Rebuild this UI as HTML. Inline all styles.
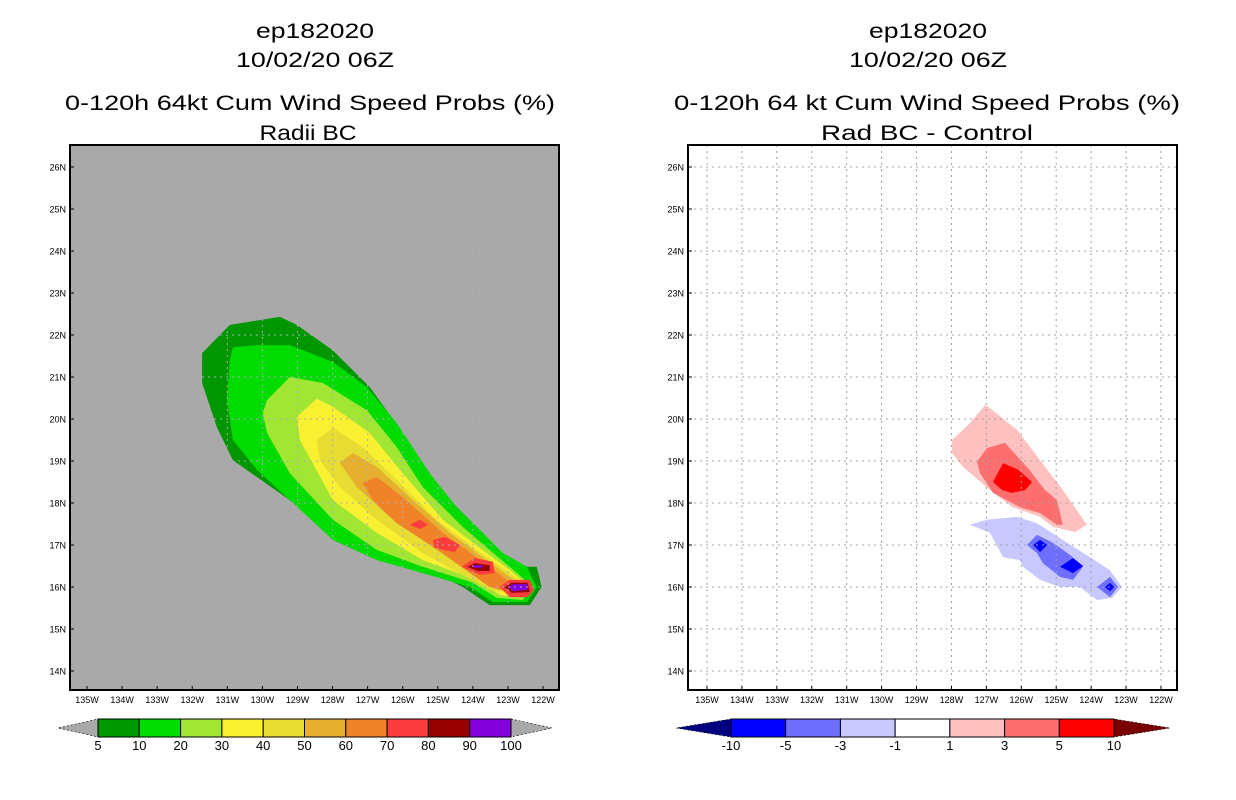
<!DOCTYPE html>
<html><head><meta charset="utf-8"><style>
body{margin:0;background:#fff;}
svg{display:block;font-family:"Liberation Sans",sans-serif;}
</style></head><body>
<svg id="s" width="1236" height="800" xmlns="http://www.w3.org/2000/svg"></svg>
<script>
// ---- data ----
const lonTicks=[135,134,133,132,131,130,129,128,127,126,125,124,123,122];
const latTicks=[26,25,24,23,22,21,20,19,18,17,16,15,14];
const leftLevels=["5","10","20","30","40","50","60","70","80","90","100"];
const leftColors=["#009600","#00dc00","#a0e632","#faf032","#e6dc32","#e6af2d","#f08228","#fa3c3c","#960000","#8200dc"];
const rightLevels=["-10","-5","-3","-1","1","3","5","10"];
const rightColors=["#0000ff","#6e6eff","#c8c8ff","#ffffff","#ffc0c0","#ff6e6e","#ff0000"];
const c5=[[131.72,21.57],[130.93,22.24],[129.5,22.43],[129.02,22.24],[128.0,21.64],[126.94,20.76],[126.0,19.67],[124.86,18.24],[123.89,17.43],[123.43,16.95],[122.95,16.48],[122.18,16.48],[122.04,16.0],[122.38,15.57],[123.52,15.57],[124.29,16.0],[125.43,16.48],[126.74,16.81],[128.08,17.29],[129.22,18.07],[130.84,19.02],[131.3,19.81],[131.72,20.86]];
const c10=[[130.84,21.71],[130.16,21.76],[129.22,21.76],[127.99,21.36],[127.02,20.76],[126.17,19.9],[125.23,18.71],[124.46,17.9],[123.72,17.29],[123.15,16.81],[122.46,16.48],[122.18,16.0],[122.46,15.64],[123.43,15.64],[124.09,16.0],[125.43,16.33],[126.74,16.64],[127.99,17.12],[129.13,18.0],[130.16,18.79],[130.84,19.5],[131.01,20.45],[130.93,21.4]];
const c20=[[129.87,20.45],[129.22,21.0],[128.28,20.86],[127.02,20.21],[126.17,19.33],[125.43,18.38],[124.29,17.43],[123.52,16.88],[122.95,16.48],[122.29,16.0],[122.58,15.69],[123.32,15.74],[124.0,16.1],[125.43,16.48],[126.74,16.88],[127.99,17.6],[129.22,18.71],[129.87,19.67],[129.99,20.14]];
const c30=[[129.02,20.05],[128.45,20.48],[127.99,20.29],[126.94,19.67],[126.0,18.71],[124.86,17.6],[123.72,16.88],[122.95,16.4],[122.38,16.0],[122.58,15.76],[123.23,15.81],[123.89,16.17],[125.43,16.64],[126.74,17.29],[127.99,18.07],[128.93,19.5]];
const c40=[[128.45,19.5],[127.99,19.79],[127.14,19.33],[126.17,18.55],[125.03,17.6],[123.89,16.88],[122.95,16.33],[122.46,16.0],[122.66,15.81],[123.52,15.93],[125.43,16.81],[126.74,17.6],[127.79,18.38],[128.36,19.02]];
const c50=[[127.79,18.95],[127.42,19.19],[126.74,18.86],[125.8,18.14],[124.66,17.29],[123.72,16.71],[122.95,16.24],[122.58,16.0],[122.75,15.86],[123.52,16.0],[125.03,16.88],[126.37,17.67],[127.31,18.38]];
const c60=[[127.14,18.48],[126.74,18.62],[126.0,18.14],[124.86,17.29],[123.89,16.71],[123.03,16.17],[122.66,15.98],[122.86,15.86],[123.52,16.0],[124.86,16.81],[126.17,17.52],[126.85,18.07]];
const c70a=[[125.8,17.48],[125.51,17.6],[125.28,17.48],[125.51,17.38]];
const c70b=[[125.14,17.12],[124.8,17.19],[124.37,17.0],[124.52,16.83],[125.09,16.93]];
const c70c=[[124.32,16.48],[123.95,16.69],[123.43,16.6],[123.38,16.33],[123.8,16.29]];
const c70d=[[123.23,16.0],[122.95,16.17],[122.38,16.17],[122.26,15.93],[122.44,15.76],[122.95,15.76]];
const c80c=[[124.15,16.48],[123.95,16.57],[123.52,16.52],[123.52,16.38],[123.86,16.38]];
const c80d=[[123.09,16.0],[122.89,16.1],[122.44,16.1],[122.38,15.88],[122.89,15.86]];
const c90c=[[124.0,16.52],[123.72,16.52],[123.72,16.46],[124.0,16.46]];
const c90d=[[123.0,16.0],[122.86,16.07],[122.46,16.07],[122.44,15.93],[122.86,15.9]];
const leftContours=[[0,c5],[1,c10],[2,c20],[3,c30],[4,c40],[5,c50],[6,c60],[7,c70a],[7,c70b],[7,c70c],[7,c70d],[8,c80c],[8,c80d],[9,c90c],[9,c90d]];
const p1=[[127.98,19.5],[127.47,19.9],[127.04,20.33],[126.9,20.26],[126.12,19.74],[125.46,19.02],[124.81,18.31],[124.12,17.48],[124.46,17.31],[125.09,17.43],[125.46,17.67],[126.24,17.9],[126.9,18.31],[127.67,18.86],[127.98,19.19]];
const p3=[[127.27,18.98],[126.98,19.31],[126.47,19.43],[125.84,18.86],[125.32,18.31],[124.98,18.07],[124.81,17.48],[124.98,17.48],[125.46,17.76],[126.04,17.9],[126.81,18.24],[127.18,18.71]];
const p5=[[126.81,18.5],[126.52,18.95],[126.09,18.79],[125.69,18.5],[125.89,18.31],[126.27,18.24],[126.55,18.31]];
const n1=[[127.47,17.48],[126.98,17.6],[126.12,17.67],[125.55,17.52],[124.81,17.12],[124.03,16.71],[123.46,16.4],[123.12,16.0],[123.4,15.74],[123.83,15.69],[124.32,16.0],[124.89,16.0],[125.46,16.17],[125.95,16.48],[126.04,16.64],[126.52,16.71],[126.9,17.29]];
const n3a=[[125.84,17.0],[125.55,17.24],[125.09,17.05],[124.6,16.76],[124.23,16.48],[124.52,16.17],[124.89,16.24],[125.38,16.57],[125.55,16.81]];
const n3b=[[123.83,16.0],[123.46,16.24],[123.23,16.0],[123.46,15.76]];
const n5a=[[125.66,17.0],[125.46,17.12],[125.26,17.0],[125.46,16.83]];
const n5b=[[124.89,16.48],[124.52,16.69],[124.23,16.5],[124.52,16.33]];
const n5c=[[123.6,16.0],[123.46,16.1],[123.34,16.0],[123.46,15.9]];
const rightContours=[[4,p1],[5,p3],[6,p5],[2,n1],[1,n3a],[1,n3b],[0,n5a],[0,n5b],[0,n5c]];
// ---- drawing ----
const NS="http://www.w3.org/2000/svg";
const svg=document.getElementById('s');
function el(t,a,parent){const e=document.createElementNS(NS,t);for(const k in a)e.setAttribute(k,a[k]);(parent||svg).appendChild(e);return e;}
const latY=lat=>671-(lat-14)*42;
function panel(x0,lonX,contours,colors,bg,gridCol,name){
  const g=el('g',{});
  
  
  const bgR=el('rect',{x:x0,y:145,width:489,height:545,fill:bg},g);
  
  
  contours.forEach(([ci,pts])=>{
    const p=el('polygon',{points:pts.map(([lo,la])=>lonX(lo).toFixed(1)+','+latY(la).toFixed(1)).join(' '),fill:colors[ci]},g);
    
    
  });
  lonTicks.forEach(l=>{
    const x=lonX(l);
    el('line',{x1:x,x2:x,y1:145,y2:690,stroke:gridCol,'stroke-width':1,'stroke-dasharray':'2,4'},g);
    el('line',{x1:x,x2:x,y1:690,y2:686,stroke:'#000'},g);
    const t=el('text',{x:x,y:703,'font-size':9,'text-anchor':'middle'},g);t.textContent=l+'W';
    
    
  });
  latTicks.forEach(l=>{
    const y=latY(l);
    el('line',{x1:x0,x2:x0+489,y1:y,y2:y,stroke:gridCol,'stroke-width':1,'stroke-dasharray':'2,4'},g);
    el('line',{x1:x0,x2:x0+4,y1:y,y2:y,stroke:'#000'},g);
    const t=el('text',{x:x0-4,y:y+3.5,'font-size':9,'text-anchor':'end'},g);t.textContent=l+'N';
    
    
  });
  el('rect',{x:x0,y:145,width:489,height:545,fill:'none',stroke:'#000','stroke-width':2},g);
}
panel(70,lo=>87+(135-lo)*35.08,leftContours,leftColors,'#a9a9a9','#adadbb','left-panel');
panel(688,lo=>707+(135-lo)*34.92,rightContours,rightColors,'#ffffff','#a0a0a0','right-panel');
function title(cx,y,str,w,name){
  const t=el('text',{x:cx,y:y,'font-size':21,'text-anchor':'middle',textLength:w,lengthAdjust:'spacingAndGlyphs'});
  t.textContent=str;
  
  
}
title(315,38,'ep182020',118,'left-title-storm');
title(315,67,'10/02/20 06Z',158,'left-title-date');
title(310,110,'0-120h 64kt Cum Wind Speed Probs (%)',490,'left-title-product');
title(308,140,'Radii BC',97,'left-subtitle');
title(928,38,'ep182020',118,'right-title-storm');
title(928,67,'10/02/20 06Z',158,'right-title-date');
title(927,110,'0-120h 64 kt Cum Wind Speed Probs (%)',506,'right-title-product');
title(927,140,'Rad BC - Control',212,'right-subtitle');
function colorbar(x0,x1,colors,labels,lt,rt,name){
  const g=el('g',{});
  
  
  const w=(x1-x0)/colors.length;
  el('polygon',{points:`${x0},719 ${x0},737 ${x0-lt[1]},728`,fill:lt[0],stroke:'#000','stroke-width':0.6,'stroke-dasharray':'2,2'},g);
  el('polygon',{points:`${x1},719 ${x1},737 ${x1+rt[1]},728`,fill:rt[0],stroke:'#000','stroke-width':0.6,'stroke-dasharray':'2,2'},g);
  colors.forEach((c,i)=>{
    const r=el('rect',{x:x0+i*w,y:719,width:w,height:18,fill:c,stroke:'#000','stroke-width':1},g);
    
    
  });
  labels.forEach((l,i)=>{
    const t=el('text',{x:x0+i*w,y:750,'font-size':13,'text-anchor':'middle'},g);t.textContent=l;
    
    
  });
}
colorbar(98,511,leftColors,leftLevels,['#a9a9a9',40],['#a9a9a9',41],'left-colorbar');
colorbar(731,1114,rightColors,rightLevels,['#000080',55],['#780000',56],'right-colorbar');
</script>
</body></html>
